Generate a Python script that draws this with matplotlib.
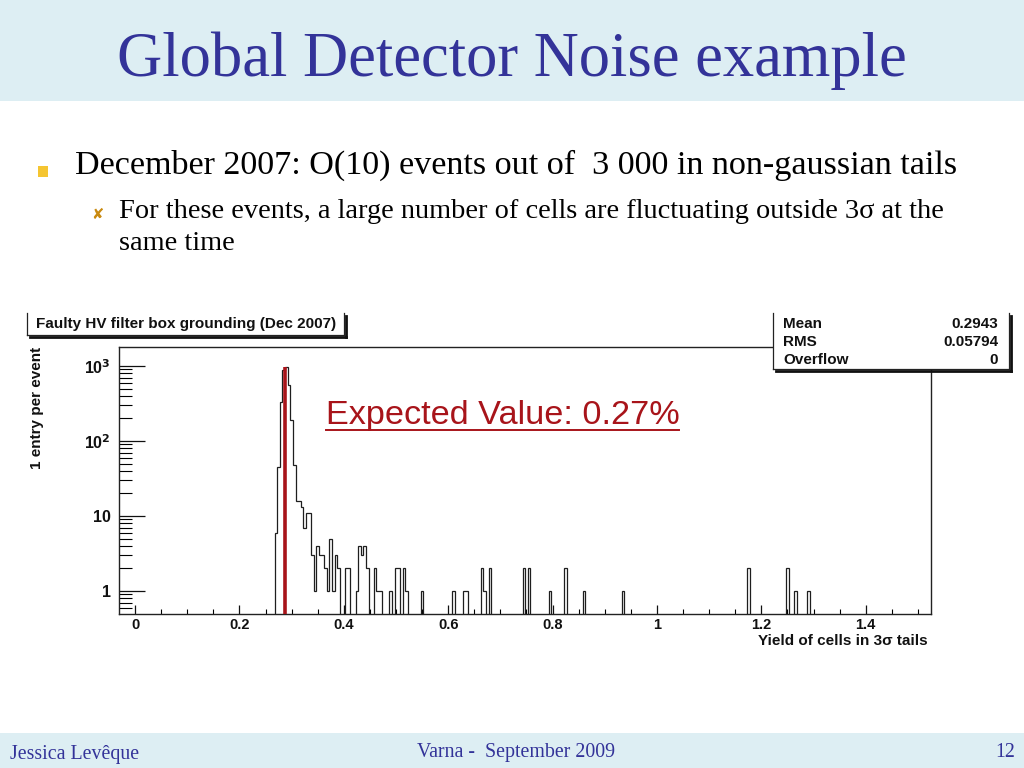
import numpy as np
import matplotlib
matplotlib.use("Agg")
import matplotlib.pyplot as plt
from matplotlib.patches import Rectangle
from matplotlib.lines import Line2D
from matplotlib.ticker import FixedLocator, FixedFormatter, NullFormatter

# ---------------- data ----------------
bin_width = 0.005
yield_centres = [0.270, 0.275, 0.280, 0.285, 0.290, 0.295, 0.300, 0.305, 0.310, 0.315,
                 0.320, 0.325, 0.330, 0.335, 0.340, 0.345, 0.350, 0.355, 0.360, 0.365,
                 0.370, 0.375, 0.380, 0.385, 0.390, 0.405, 0.410, 0.425, 0.430, 0.435,
                 0.440, 0.445, 0.460, 0.465, 0.470, 0.490, 0.500, 0.505, 0.515, 0.520,
                 0.550, 0.610, 0.630, 0.635, 0.665, 0.670, 0.680, 0.745, 0.755, 0.795,
                 0.825, 0.860, 0.935, 1.175, 1.250, 1.265, 1.290]
entries = [6, 45, 330, 880, 960, 560, 190, 48, 16, 16,
           13, 7, 11, 11, 3, 1, 4, 3, 3, 2,
           1, 5, 1, 3, 2, 2, 2, 1, 4, 3,
           4, 2, 2, 1, 1, 1, 2, 2, 2, 1,
           1, 1, 1, 1, 2, 1, 2, 2, 2, 1,
           2, 1, 1, 2, 2, 1, 1]
expected_value = 0.287
expected_height = 980

x_ticks = [0, 0.2, 0.4, 0.6, 0.8, 1.0, 1.2, 1.4]
x_tick_labels = ["0", "0.2", "0.4", "0.6", "0.8", "1", "1.2", "1.4"]
y_ticks = [1, 10, 100, 1000]
y_tick_labels = ["1", "10", r"10$^{\mathbf{2}}$", r"10$^{\mathbf{3}}$"]

stats_names = ["Mean", "RMS", "Overflow"]
stats_values = ["0.2943", "0.05794", "0"]

# ---------------- figure ----------------
W, H = 1024, 768
fig = plt.figure(figsize=(W / 100, H / 100), dpi=100)
fig.patch.set_facecolor("white")


def fx(px):
    return px / W


def fy(py):
    return 1 - py / H


SERIF = ["Liberation Serif", "DejaVu Serif"]
SANS = ["Liberation Sans", "DejaVu Sans"]
BLUE = "#333399"
BAND = "#ddeef3"

# title band and footer band
fig.patches.append(Rectangle((0, fy(101)), 1, 101 / H, transform=fig.transFigure,
                             facecolor=BAND, edgecolor="none", zorder=0))
fig.patches.append(Rectangle((0, 0), 1, (H - 733) / H, transform=fig.transFigure,
                             facecolor=BAND, edgecolor="none", zorder=0))

fig.text(fx(512), fy(76), "Global Detector Noise example", family=SERIF, fontsize=45,
         color=BLUE, ha="center", va="baseline")

# bullets
fig.patches.append(Rectangle((fx(38), fy(177)), 10 / W, 11 / H, transform=fig.transFigure,
                             facecolor="#f5c531", edgecolor="none", zorder=2))
fig.text(fx(75), fy(174), "December 2007: O(10) events out of  3 000 in non-gaussian tails",
         family=SERIF, fontsize=24.6, color="black", ha="left", va="baseline")
fig.text(fx(97), fy(219), "\u2718", family=["DejaVu Sans"], fontsize=10.5, color="#c98a10",
         ha="center", va="baseline")
fig.text(fx(119), fy(218), "For these events, a large number of cells are fluctuating outside 3\u03c3 at the",
         family=SERIF, fontsize=20.4, color="black", ha="left", va="baseline")
fig.text(fx(119), fy(250), "same time", family=SERIF, fontsize=20.4, color="black",
         ha="left", va="baseline")

# footer
fig.text(fx(10), fy(759), "Jessica Lev\u00eaque", family=SERIF, fontsize=14.3, color=BLUE,
         ha="left", va="baseline")
fig.text(fx(516), fy(757), "Varna -  September 2009", family=SERIF, fontsize=14.3, color=BLUE,
         ha="center", va="baseline")
fig.text(fx(1015), fy(757), "12", family=SERIF, fontsize=14.3, color=BLUE,
         ha="right", va="baseline")

# ---------------- histogram axes ----------------
ax = fig.add_axes([fx(119), fy(614), (931 - 119) / W, (614 - 347) / H])
ax.set_yscale("log")

centres = np.array(yield_centres)
idx = np.round((centres - centres.min()) / bin_width).astype(int)
n = idx.max() + 1
counts = np.full(n, 1e-3)
counts[idx] = entries
edges = centres.min() - bin_width / 2 + bin_width * np.arange(n + 1)
ax.stairs(counts, edges, baseline=1e-3, color="#1e1e1e", lw=0.9, zorder=2)
ax.vlines(expected_value, 1e-3, expected_height, color="#a8141a", lw=2.6, zorder=3)

ax.set_xlim(-0.0307, 1.525)
ax.set_ylim(0.4937, 1792)

for s in ax.spines.values():
    s.set_linewidth(1.0)
    s.set_color("#222222")

ax.xaxis.set_major_locator(FixedLocator(x_ticks))
ax.xaxis.set_major_formatter(FixedFormatter(x_tick_labels))
minor_x = [round(0.05 * k, 2) for k in range(0, 31)]
minor_x = [v for v in minor_x if all(abs(v - t) > 1e-6 for t in x_ticks)]
ax.xaxis.set_minor_locator(FixedLocator(minor_x))
ax.xaxis.set_minor_formatter(NullFormatter())

ax.yaxis.set_major_locator(FixedLocator(y_ticks))
ax.yaxis.set_major_formatter(FixedFormatter(y_tick_labels))
minor_y = [0.6, 0.7, 0.8, 0.9] + [m * d for d in (1, 10, 100) for m in range(2, 10)]
ax.yaxis.set_minor_locator(FixedLocator(minor_y))
ax.yaxis.set_minor_formatter(NullFormatter())

ax.tick_params(axis="x", which="major", direction="in", length=6.5, width=0.9, pad=3,
               top=False, labelsize=10.5, colors="#111111")
ax.tick_params(axis="x", which="minor", direction="in", length=3.3, width=0.8, top=False)
ax.tick_params(axis="y", which="major", direction="in", length=18.5, width=0.9, pad=6,
               right=False, labelsize=11.5, colors="#111111")
ax.tick_params(axis="y", which="minor", direction="in", length=9.5, width=0.8, right=False)
for lab in ax.get_xticklabels() + ax.get_yticklabels():
    lab.set_family(SANS)
    lab.set_fontweight("bold")

fig.text(fx(928), fy(641), "Yield of cells in 3\u03c3 tails", family=SANS, fontsize=11,
         fontweight="bold", ha="right", va="center", color="#111111")
fig.text(fx(37), fy(408), "1 entry per event", family=SANS, fontsize=11,
         fontweight="bold", rotation=90, ha="center", va="center", color="#111111")

# Expected value annotation
fig.text(fx(326), fy(424), "Expected Value: 0.27%", family=SANS, fontsize=24.7,
         color="#a8141a", ha="left", va="baseline")
fig.lines.append(Line2D([fx(326), fx(679)], [fy(429.5), fy(429.5)], transform=fig.transFigure,
                        color="#a8141a", lw=1.4))

# title pave (open top, shadow right/bottom)
def pave(x0, x1, ytop, ybot):
    fig.patches.append(Rectangle((fx(x0), fy(ybot)), (x1 - x0) / W, (ybot - ytop) / H,
                                 transform=fig.transFigure, facecolor="white",
                                 edgecolor="none", zorder=4))
    fig.lines.append(Line2D([fx(x0), fx(x0)], [fy(ytop), fy(ybot)], transform=fig.transFigure,
                            color="#222222", lw=0.9, zorder=5))
    fig.lines.append(Line2D([fx(x0), fx(x1)], [fy(ybot), fy(ybot)], transform=fig.transFigure,
                            color="#222222", lw=0.9, zorder=5))
    fig.lines.append(Line2D([fx(x1), fx(x1)], [fy(ytop), fy(ybot)], transform=fig.transFigure,
                            color="#222222", lw=0.9, zorder=5))
    # shadow
    fig.lines.append(Line2D([fx(x0 + 3), fx(x1 + 2)], [fy(ybot + 1.5), fy(ybot + 1.5)],
                            transform=fig.transFigure, color="#111111", lw=2.0, zorder=5))
    fig.lines.append(Line2D([fx(x1 + 1.5), fx(x1 + 1.5)], [fy(ytop + 3), fy(ybot + 2)],
                            transform=fig.transFigure, color="#111111", lw=2.0, zorder=5))


pave(27, 344, 313, 335)
fig.text(fx(36), fy(324), "Faulty HV filter box grounding (Dec 2007)", family=SANS,
         fontsize=11, fontweight="bold", ha="left", va="center", color="#111111", zorder=6)

pave(773, 1009, 313, 369)
for i, (name, val) in enumerate(zip(stats_names, stats_values)):
    yy = 324 + 18 * i
    fig.text(fx(783), fy(yy), name, family=SANS, fontsize=11, fontweight="bold",
             ha="left", va="center", color="#111111", zorder=6)
    fig.text(fx(998), fy(yy), val, family=SANS, fontsize=11, fontweight="bold",
             ha="right", va="center", color="#111111", zorder=6)

fig.savefig("out.png", dpi=100)
